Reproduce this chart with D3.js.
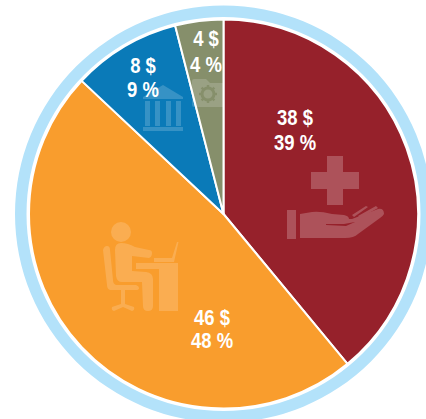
<!DOCTYPE html>
<html>
<head>
<meta charset="utf-8">
<script src="https://cdn.jsdelivr.net/npm/d3@7"></script>
<style>
  html, body { margin: 0; padding: 0; background: #fff; overflow: hidden; }
  text { font-family: "Liberation Sans", sans-serif; font-weight: 700; fill: #fff; text-anchor: middle; }
</style>
</head>
<body>
<div id="chart"></div>
<script>
// data
const categories = ["Santé", "Bureau", "Banque", "Autres"];
const dollars = [38, 46, 8, 4];
const percents = [39, 48, 9, 4];
const colors = ["#96212b", "#f99d2d", "#0a7ab8", "#868f6b"];

const W = 426, H = 419;
const cx = 223.5, cy = 214;
const R = 194.5, ringOuter = 208.5, ringInner = 197;

const svg = d3.select("#chart").append("svg").attr("width", W).attr("height", H);
const g = svg.append("g").attr("transform", `translate(${cx},${cy})`);

// light blue ring
g.append("path")
  .attr("fill", "#b3e2fa")
  .attr("d", d3.arc().innerRadius(ringInner).outerRadius(ringOuter)({ startAngle: 0, endAngle: 2 * Math.PI }));

// slices
const pie = d3.pie().sort(null).value((d, i) => percents[i]);
const arc = d3.arc().innerRadius(0).outerRadius(R);

g.selectAll("path.slice")
  .data(pie(categories))
  .join("path")
  .attr("class", "slice")
  .attr("fill", (d, i) => colors[i])
  .attr("stroke", "#fff")
  .attr("stroke-width", 2)
  .attr("stroke-linejoin", "round")
  .attr("d", arc);

// icons, drawn in page coordinates
const icons = svg.append("g").attr("fill", "#fff");

// hand + cross
const care = icons.append("g").attr("opacity", 0.22);
care.append("path").attr("d", "M327,156H343V172H359V189H343V205H327V189H311V172H327Z");
care.append("rect").attr("x", 287).attr("y", 210).attr("width", 9).attr("height", 29);
care.append("path").attr("d", "M300,214 L312,212 Q320,211 332,214 L344,215 Q349,216 349,219 L352,219 L378,209 Q384,208 384,214 Q383,216 380,218 L358,234 Q354,238 345,238 L300,238Z M326,225 L346,226 L355,222 L344,224 L326,224Z");
care.append("path").attr("d", "M352,215 L366,206 L368,207 L354,217Z M358,216 L376,206 L378,208 L360,218Z");

// person at desk
const desk = icons.append("g").attr("opacity", 0.17);
desk.append("circle").attr("cx", 121).attr("cy", 232).attr("r", 10);
// body
desk.append("path").attr("d", "M121,243 Q115,243 115,250 L116,276 Q117,282 122,282 L142,282 L143,306 Q143,311 148,311 Q153,311 153,306 L153,279 Q153,273 146,272 L132,271 L132,256 L149,258 Q152,257 152,253 Q152,250 149,250 L135,247 Q128,243 121,243Z");
// chair
desk.append("path").attr("d", "M103,250 Q104,246 107,246 Q110,246 110,250 L113,280 Q113,284 116,285 L136,285 Q139,286 139,288 Q139,290 136,290 L125,290 L125,304 L134,307 Q135,310 132,311 L123,307 L114,311 Q111,310 112,307 L121,304 L121,290 L110,290 Q107,289 107,285Z");
// desk and laptop
desk.append("path").attr("d", "M136,263 H178 V311 H159 V269 H136Z");
desk.append("path").attr("d", "M154,258 H172 L177,242 L178.5,242 L174,262 H154Z");

// bank
const bank = icons.append("g").attr("opacity", 0.18);
bank.append("path").attr("d", "M163,85 L183,97 V99 H143 V97Z");
[145, 155, 166, 176].forEach(x => bank.append("rect").attr("x", x).attr("y", 101).attr("width", 5).attr("height", 25));
bank.append("rect").attr("x", 143).attr("y", 127).attr("width", 40).attr("height", 2);
bank.append("rect").attr("x", 143).attr("y", 129).attr("width", 40).attr("height", 2);

// folder + gear
icons.append("path").attr("opacity", 0.17)
  .attr("d", "M192,81 Q192,79 194,79 L206,79 L210,83 L224,83 V107 H194 Q192,107 192,105Z");
const gear = svg.append("g").attr("transform", "translate(208,94)");
gear.append("circle").attr("r", 6).attr("fill", "none").attr("stroke", "#868f6b").attr("stroke-width", 3);
d3.range(8).forEach(i => gear.append("rect")
  .attr("x", -1.2).attr("y", -9).attr("width", 2.4).attr("height", 3)
  .attr("fill", "#868f6b")
  .attr("transform", `rotate(${i * 45})`));

// labels
const labelPos = [[295, 117, 142], [212, 317, 340], [143, 65, 89], [206, 38, 64]];
const labels = svg.append("g").attr("font-size", 22);
const addLabel = (x, y, s) => labels.append("text")
  .attr("transform", `translate(${x},${y}) scale(0.84,1)`)
  .attr("dy", "0.35em")
  .text(s);
categories.forEach((c, i) => {
  const [x, y1, y2] = labelPos[i];
  addLabel(x, y1, `${dollars[i]} $`);
  addLabel(x, y2, `${percents[i]} %`);
});
</script>
</body>
</html>
